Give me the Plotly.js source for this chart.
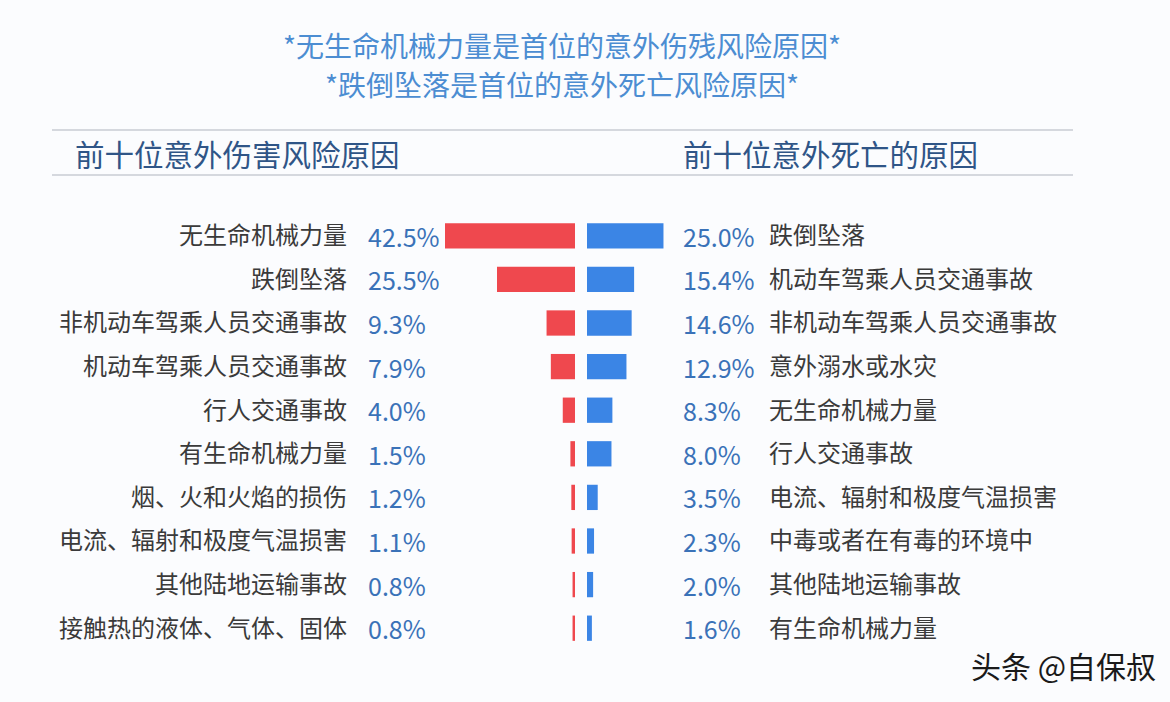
<!DOCTYPE html>
<html>
<head>
<meta charset="utf-8">
<script src="https://cdn.plot.ly/plotly-3.0.1.min.js"></script>
<style>html,body{margin:0;padding:0;background:#fbfcfe;}#chart{width:1170px;height:702px;}</style>
</head>
<body>
<div id="chart"></div>
<script>
// ---- data ----
const injuryCauses = ["无生命机械力量","跌倒坠落","非机动车驾乘人员交通事故","机动车驾乘人员交通事故","行人交通事故","有生命机械力量","烟、火和火焰的损伤","电流、辐射和极度气温损害","其他陆地运输事故","接触热的液体、气体、固体"];
const injuryPct = [42.5, 25.5, 9.3, 7.9, 4.0, 1.5, 1.2, 1.1, 0.8, 0.8];
const deathCauses = ["跌倒坠落","机动车驾乘人员交通事故","非机动车驾乘人员交通事故","意外溺水或水灾","无生命机械力量","行人交通事故","电流、辐射和极度气温损害","中毒或者在有毒的环境中","其他陆地运输事故","有生命机械力量"];
const deathPct = [25.0, 15.4, 14.6, 12.9, 8.3, 8.0, 3.5, 2.3, 2.0, 1.6];
const titleLines = ["*无生命机械力量是首位的意外伤残风险原因*","*跌倒坠落是首位的意外死亡风险原因*"];
const leftHeader = "前十位意外伤害风险原因";
const rightHeader = "前十位意外死亡的原因";
const watermark = "头条 @自保叔";

// ---- layout helpers ----
const W = 1170, H = 702;
const px = x => x / W;
const py = y => 1 - y / H;
const FONT = '"Noto Sans CJK SC", "Noto Sans", sans-serif';
const fmt = v => v.toFixed(1) + "%";

const traces = [
  {type:'bar', orientation:'h', x: injuryPct, y: injuryCauses, xaxis:'x', yaxis:'y',
   marker:{color:'#ef484e'}, width:0.58, hoverinfo:'x+y', showlegend:false},
  {type:'bar', orientation:'h', x: deathPct, y: deathCauses, xaxis:'x2', yaxis:'y2',
   marker:{color:'#3b85e5'}, width:0.58, hoverinfo:'x+y', showlegend:false}
];

const maxV = Math.max(...injuryPct);
const yDom = [py(650), py(214)];
const annotations = [];
titleLines.forEach((t, i) => annotations.push({
  text: t, xref:'paper', yref:'paper', x: px(562), y: py(45 + i*39), xanchor:'center', yanchor:'middle',
  showarrow:false, font:{family:FONT, size:28, color:'#4c8dd2'}
}));
annotations.push({text:leftHeader, xref:'paper', yref:'paper', x:px(73), y:py(153), xanchor:'left', yanchor:'middle',
  showarrow:false, font:{family:FONT, size:29.5, color:'#2f5587'}});
annotations.push({text:rightHeader, xref:'paper', yref:'paper', x:px(681), y:py(153), xanchor:'left', yanchor:'middle',
  showarrow:false, font:{family:FONT, size:29.5, color:'#2f5587'}});
injuryCauses.forEach((c, i) => annotations.push({
  text: fmt(injuryPct[i]), xref:'paper', yref:'y', x: px(366), y: c, xanchor:'left', yanchor:'middle',
  showarrow:false, font:{family:FONT, size:25, color:'#3a72b8'}
}));
deathCauses.forEach((c, i) => annotations.push({
  text: fmt(deathPct[i]), xref:'paper', yref:'y2', x: px(681), y: c, xanchor:'left', yanchor:'middle',
  showarrow:false, font:{family:FONT, size:25, color:'#3a72b8'}
}));
annotations.push({text:watermark, xref:'paper', yref:'paper', x:px(1158), y:py(665), xanchor:'right', yanchor:'middle',
  showarrow:false, font:{family:FONT, size:30, color:'#1a1a1a'}});

const layout = {
  width: W, height: H,
  margin:{l:0, r:0, t:0, b:0},
  paper_bgcolor:'#fbfcfe', plot_bgcolor:'rgba(0,0,0,0)',
  font:{family:FONT},
  showlegend:false,
  bargap:0.42,
  xaxis:{domain:[px(445), px(575)], range:[maxV, 0], visible:false, fixedrange:true, anchor:'y'},
  xaxis2:{domain:[px(587), px(717)], range:[0, maxV], visible:false, fixedrange:true, anchor:'y2'},
  yaxis:{domain:yDom, type:'category', range:[9.5, -0.5], anchor:'free', position:px(347),
    showgrid:false, zeroline:false, showline:false, ticks:'',
    tickfont:{family:FONT, size:24, color:'#3a3a3a'}},
  yaxis2:{domain:yDom, type:'category', range:[9.5, -0.5], anchor:'free', position:px(768), side:'right',
    overlaying:'y', showgrid:false, zeroline:false, showline:false, ticks:'',
    tickfont:{family:FONT, size:24, color:'#3a3a3a'}},
  shapes:[
    {type:'line', xref:'paper', yref:'paper', x0:px(52), x1:px(1073), y0:py(130), y1:py(130), line:{color:'#c9cdd3', width:1.5}},
    {type:'line', xref:'paper', yref:'paper', x0:px(52), x1:px(1073), y0:py(175), y1:py(175), line:{color:'#c9cdd3', width:1.5}}
  ],
  annotations: annotations
};

Plotly.newPlot('chart', traces, layout, {displayModeBar:false, staticPlot:true});
</script>
</body>
</html>
